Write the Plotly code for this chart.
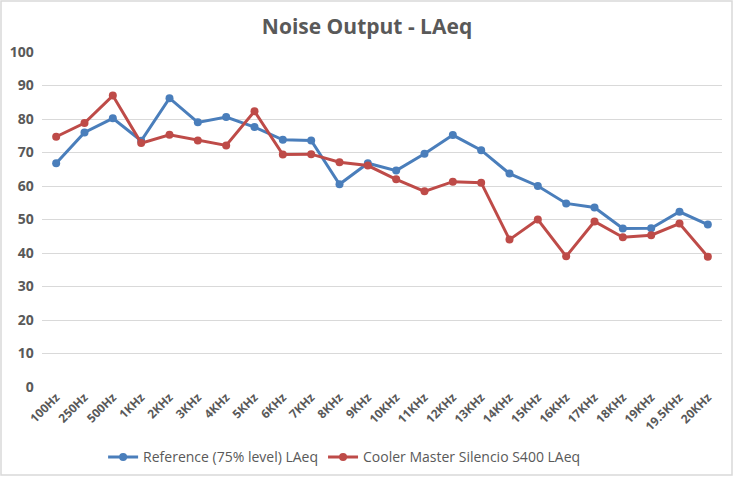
import plotly.graph_objects as go

categories = ["100Hz", "250Hz", "500Hz", "1KHz", "2KHz", "3KHz", "4KHz", "5KHz", "6KHz", "7KHz",
              "8KHz", "9KHz", "10KHz", "11KHz", "12KHz", "13KHz", "14KHz", "15KHz", "16KHz",
              "17KHz", "18KHz", "19KHz", "19.5KHz", "20KHz"]
reference = [66.8, 76.0, 80.2, 73.5, 86.2, 79.0, 80.6, 77.6, 73.8, 73.6, 60.5, 66.8, 64.6,
             69.6, 75.2, 70.7, 63.7, 60.0, 54.8, 53.6, 47.3, 47.4, 52.3, 48.5]
cooler = [74.7, 78.8, 87.0, 72.8, 75.3, 73.6, 72.1, 82.3, 69.4, 69.5, 67.1, 66.1, 62.0,
          58.4, 61.3, 61.0, 44.0, 50.0, 39.0, 49.4, 44.7, 45.3, 48.8, 38.9]

W, H = 734, 477
ml, mr, mt, mb = 42, 12, 52, 90
pw, ph = W - ml - mr, H - mt - mb

fig = go.Figure()
fig.add_trace(go.Scatter(x=categories, y=reference, mode="lines+markers",
                         name="Reference (75% level) LAeq",
                         line=dict(color="#4a7ebb", width=3),
                         marker=dict(size=8, color="#4a7ebb")))
fig.add_trace(go.Scatter(x=categories, y=cooler, mode="lines+markers",
                         name="Cooler Master Silencio S400 LAeq",
                         line=dict(color="#be4b48", width=3),
                         marker=dict(size=8, color="#be4b48")))

fig.update_layout(
    width=W, height=H,
    margin=dict(l=ml, r=mr, t=mt, b=mb, autoexpand=False),
    paper_bgcolor="white", plot_bgcolor="white",
    font=dict(family="Open Sans, Liberation Sans, sans-serif", color="#595959", size=13),
    title=dict(text="<b>Noise Output - LAeq</b>", x=0.5, xanchor="center", y=0.945, yanchor="middle",
               font=dict(size=21, color="#595959")),
    showlegend=True,
    legend=dict(orientation="h", x=0.445, xanchor="center", y=-0.21, yanchor="middle",
                font=dict(size=14, color="#595959"), itemwidth=30, tracegroupgap=0),
    xaxis=dict(type="category", tickangle=-45, showgrid=False, zeroline=False, automargin=False,
               showline=False, ticks="", tickfont=dict(size=12, color="#595959", weight="bold"),
               range=[-0.5, len(categories) - 0.5]),
    yaxis=dict(range=[0, 100], dtick=10, showgrid=True, gridcolor="#d9d9d9", gridwidth=1,
               zeroline=False, showline=False, ticks="", ticksuffix="  ", automargin=False,
               tickfont=dict(size=14, color="#595959", weight="bold")),
    shapes=[dict(type="rect", xref="paper", yref="paper",
                 x0=(1 - ml) / pw, x1=(W - 2 - ml) / pw,
                 y0=-(mb - 2) / ph, y1=1 + (mt - 1) / ph,
                 line=dict(color="#d9d9d9", width=1.5), fillcolor="rgba(0,0,0,0)", layer="below")],
)

fig.write_html("out.html", config={"displayModeBar": False},
               post_script="document.body.style.margin='0';")
